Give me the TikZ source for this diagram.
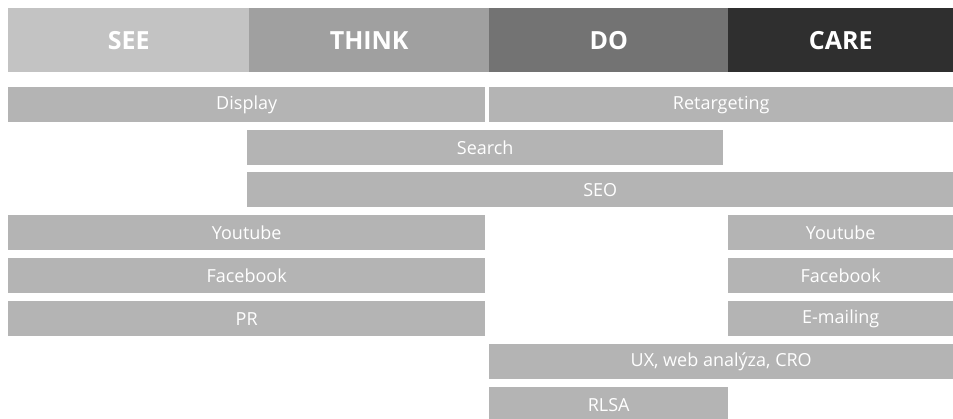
\documentclass[tikz,border=0pt]{standalone}
\usepackage{fontspec}
\setmainfont{Open Sans}
\usetikzlibrary{positioning}
\definecolor{seegrau}{HTML}{C3C3C3}
\definecolor{thinkgrau}{HTML}{A0A0A0}
\definecolor{dograu}{HTML}{737373}
\definecolor{caregrau}{HTML}{2F2F2F}
\definecolor{balkengrau}{HTML}{B4B4B4}
\tikzset{
  kopf/.style={anchor=north west,inner sep=0pt,minimum height=64pt,text=white,font=\fontsize{25}{25}\selectfont\bfseries},
  balken/.style={anchor=north west,inner sep=0pt,minimum height=35pt,fill=balkengrau,text=white,font=\fontsize{18}{18}\selectfont}
}
\begin{document}
\begin{tikzpicture}[x=1pt,y=-1pt]
\useasboundingbox (0,0) rectangle (953,418);
%Kopfzeile: Phasen
\foreach \name/\x/\w/\farbe/\txt in {see/8/241/seegrau/SEE,think/249/240/thinkgrau/THINK,do/489/239/dograu/DO,care/728/225/caregrau/CARE}{
  \node[kopf,fill=\farbe,minimum width=\w pt] (\name) at (\x,8) {\txt};
}
%Kanaele
\node[balken,minimum width=477pt] (display) at (8,87) {Display};
\node[balken,minimum width=464pt] (retargeting) at (489,87) {Retargeting};
\node[balken,minimum width=476pt] (search) at (247,130) {Search};
\node[balken,minimum width=706pt] (seo) at (247,172) {SEO};
\node[balken,minimum width=477pt] (youtubeL) at (8,215) {Youtube};
\node[balken,minimum width=225pt] (youtubeR) at (728,215) {Youtube};
\node[balken,minimum width=477pt] (facebookL) at (8,258) {Facebook};
\node[balken,minimum width=225pt] (facebookR) at (728,258) {Facebook};
\node[balken,minimum width=477pt] (pr) at (8,301) {PR};
\node[balken,minimum width=225pt] (emailing) at (728,301) {E-mailing};
\node[balken,minimum width=464pt] (ux) at (489,344) {UX, web analýza, CRO};
\node[balken,minimum width=239pt] (rlsa) at (489,387) {RLSA};
\end{tikzpicture}
\end{document}
